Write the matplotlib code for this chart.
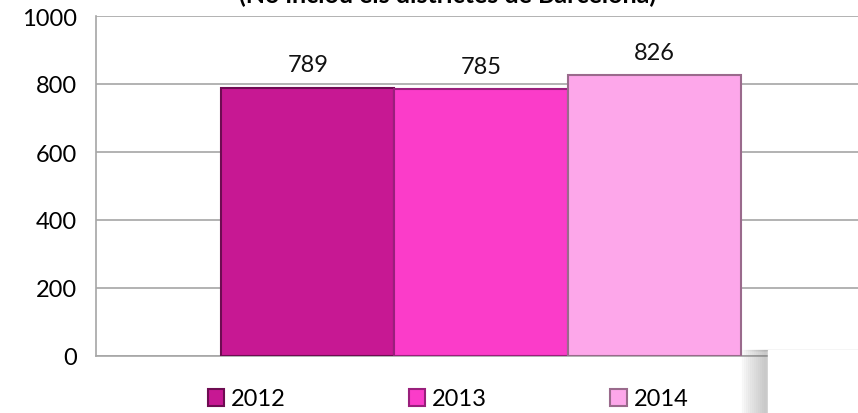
import matplotlib.pyplot as plt
from matplotlib.patches import Rectangle

# dades
anys = ['2012', '2013', '2014']
valors = [789, 785, 826]
colors = ['#C71893', '#FB3CC9', '#FDA7EA']
vores = ['#6E0C52', '#9A1F7C', '#9A6A8C']

plt.rcParams['font.family'] = ['Lato', 'DejaVu Sans']

fig = plt.figure(figsize=(8.58, 4.14), dpi=100)
ax = fig.add_axes([96 / 858, 57 / 414, 770 / 858, 340 / 414])

amplada = 0.2247
for i, (a, v) in enumerate(zip(anys, valors)):
    x = (i - 1) * amplada
    ax.bar(x, v, width=amplada, color=colors[i], edgecolor=vores[i],
           linewidth=1.5, label=a, zorder=3)
    ax.annotate(str(v), (x, v), xytext=(0, 9), textcoords='offset points',
                ha='center', va='bottom', fontsize=17, color='#111111')

ax.set_xlim(-0.5, 0.5)
ax.set_ylim(0, 1000)
ax.set_yticks(range(0, 1001, 200))
ax.set_xticks([])
ax.grid(axis='y', color='#A6A6A6', linewidth=1.2, zorder=0)
ax.tick_params(axis='y', length=0, pad=14, labelsize=17)
for s in ['top', 'right']:
    ax.spines[s].set_visible(False)
for s in ['left', 'bottom']:
    ax.spines[s].set_color('#A6A6A6')
    ax.spines[s].set_linewidth(1.2)

# títol retallat a dalt (com a la imatge original)
fig.text(448 / 858, 1 - 3 / 414, '(No inclou els districtes de Barcelona)',
         ha='center', va='baseline', fontsize=18, fontweight='bold')

fig.legend(loc='center', bbox_to_anchor=(448 / 858, 1 - 400 / 414), ncol=3,
           frameon=False, fontsize=17, handlelength=0.7, handleheight=0.7,
           handletextpad=0.3, columnspacing=5.2)

# caixa blanca sobreposada a baix a la dreta, amb ombra
dalt = 63 / 414
for k in range(12):
    fig.patches.append(Rectangle(((742 + k * 2) / 858, -0.1), 0.3, 0.1 + dalt,
                                 transform=fig.transFigure, color='#808080',
                                 alpha=0.04, zorder=9))
fig.patches.append(Rectangle((768 / 858, -0.1), 0.3, 0.1 + dalt,
                             transform=fig.transFigure, color='white', zorder=10))

fig.savefig('out.png', dpi=100)
